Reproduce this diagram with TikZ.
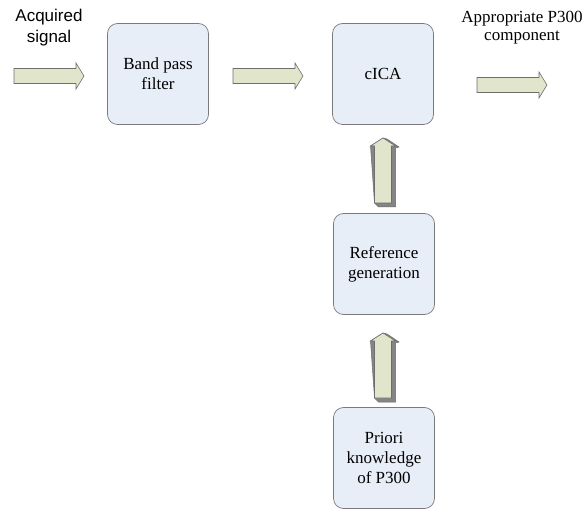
\documentclass[tikz,border=0pt]{standalone}
\usepackage{fontspec}
\setmainfont{Liberation Serif}
\newfontfamily\arialfont{Liberation Sans}
\definecolor{boxfill}{HTML}{E8EEF7}
\definecolor{boxborder}{HTML}{7A7A7A}
\definecolor{arrowfill}{HTML}{E0E5CC}
\definecolor{arrowborder}{HTML}{6E6E6E}
\definecolor{arrowdark}{HTML}{858585}
\tikzset{
  blk/.style={draw=boxborder, fill=boxfill, rounded corners=10pt, minimum width=101pt, minimum height=101pt,
    align=center, inner sep=0pt, line width=0.7pt, font=\fontsize{17}{20}\selectfont},
  arrowbody/.style={draw=arrowborder, fill=arrowfill, line width=0.6pt, line join=miter},
  harr/.pic={
    \path[arrowbody] (-35,-7.5) -- (27,-7.5) -- (27,-13) -- (35,0) -- (27,13) -- (27,7.5) -- (-35,7.5) -- cycle;
  },
  uarr/.pic={
    \path[fill=arrowdark, draw=arrowdark!80!black, line width=0.5pt]
      (-12.5,-27) -- (0,-35) -- (4,-34) -- (16,-26) -- (12.5,-25) -- (12.5,34) -- (-4.5,34) -- (-8.5,30) -- cycle;
    \path[arrowbody] (-8.5,30) -- (-8.5,-27) -- (-12.5,-27) -- (0,-35) -- (12.5,-27) -- (8.5,-27) -- (8.5,30) -- cycle;
  },
  lbl/.style={align=center, inner sep=0pt, font=\fontsize{17}{20}\selectfont},
}
\begin{document}
\begin{tikzpicture}[x=1pt,y=-1pt]
\useasboundingbox (0,0) rectangle (586,510);
\node[blk] (bpf) at (158,74) {Band pass\\filter};
\node[blk] (cica) at (383,74) {cICA};
\node[blk] (ref) at (384,264) {Reference\\generation};
\node[blk] (pri) at (384,458) {Priori\\knowledge\\of P300};
\node[lbl, font=\arialfont\fontsize{17}{21}\selectfont] (acq) at (49,28) {Acquired\\signal};
\node[lbl, font=\fontsize{17}{18}\selectfont] (out) at (522,28) {Appropriate P300\\component};
\coordinate (a1) at (49,76);
\coordinate (a2) at (268,76);
\coordinate (a3) at (512,85);
\coordinate (a4) at (383,173);
\coordinate (a5) at (383,368);
\pic at (a1) {harr};
\pic at (a2) {harr};
\pic at (a3) {harr};
\pic at (a4) {uarr};
\pic at (a5) {uarr};
\end{tikzpicture}
\end{document}
